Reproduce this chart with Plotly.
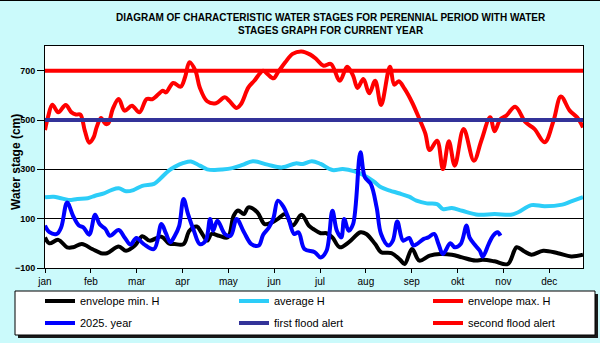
"""
Characteristic water stages for the perennial period, with the current
year's water stage graph on top. Days of year on x, water stage (cm) on y.
"""

import plotly.graph_objects as go

MONTHS = ["jan", "feb", "mar", "apr", "may", "jun",
          "jul", "aug", "sep", "okt", "nov", "dec"]

# envelope max. H
MAX_DAYS = [0, 2, 5, 9, 14, 18, 21, 24, 27, 30, 33, 35, 38, 41, 43, 46, 50, 54, 59, 64,
            69, 73, 80, 82, 87, 92, 95, 98, 102, 105, 110, 116, 122, 125, 130, 133, 138, 142, 148, 151,
            155, 158, 163, 168, 174, 180, 184, 189, 194, 200, 205, 209, 212, 216, 220, 224, 228, 234, 237, 240,
            244, 249, 254, 258, 261, 266, 270, 274, 278, 284, 291, 296, 302, 305, 309, 313, 319, 326, 332, 339,
            345, 350, 356, 361, 365]
MAX_H = [459, 511, 562, 531, 561, 531, 522, 522, 457, 408, 430, 470, 508, 484, 487, 545, 585, 538, 558, 531,
         585, 585, 619, 612, 650, 635, 673, 734, 700, 632, 576, 568, 592, 578, 549, 565, 632, 659, 700, 686,
         669, 693, 734, 768, 778, 765, 747, 720, 727, 659, 716, 680, 630, 666, 608, 659, 561, 716, 643, 657,
         626, 572, 504, 446, 378, 416, 301, 414, 315, 464, 335, 416, 511, 454, 504, 518, 554, 491, 464, 410,
         497, 595, 538, 511, 470]

# average H
AVG_DAYS = [0, 6, 10, 16, 22, 29, 34, 40, 45, 50, 55, 60, 66, 74, 78, 84, 88, 94, 99, 105,
            110, 115, 120, 127, 134, 141, 151, 161, 170, 175, 181, 187, 195, 202, 210, 217, 223, 228, 234, 240,
            247, 252, 259, 266, 270, 276, 283, 294, 305, 316, 321, 330, 339, 351, 357, 365]
AVG_H = [187, 189, 184, 176, 180, 183, 193, 203, 216, 223, 211, 216, 233, 241, 261, 295, 310, 326, 332, 315,
         300, 297, 299, 305, 318, 333, 319, 308, 324, 322, 333, 322, 297, 301, 292, 274, 251, 227, 214, 203,
         189, 173, 162, 159, 139, 143, 132, 116, 119, 116, 126, 155, 150, 157, 170, 187]

# envelope min. H
MIN_DAYS = [0, 3, 9, 15, 19, 25, 32, 38, 42, 50, 55, 61, 66, 71, 79, 84, 88, 94, 98, 103,
            106, 110, 113, 118, 124, 128, 131, 135, 138, 144, 149, 154, 158, 163, 168, 174, 179, 182, 187, 191,
            195, 200, 206, 214, 218, 224, 228, 235, 241, 244, 249, 254, 261, 268, 276, 283, 292, 297, 305, 314,
            320, 325, 330, 338, 348, 357, 365]
MIN_H = [24, 0, 14, -16, -16, -3, -23, -40, -40, -13, -30, -9, 29, 11, 27, 0, -3, -3, 51, 68,
         45, 11, 38, 31, 24, 112, 133, 119, 146, 126, 78, 85, 99, 119, 72, 116, 72, 58, 41, 41,
         24, -16, 4, 45, 38, -3, -36, -40, -67, -84, -23, -70, -50, -43, -46, -57, -70, -67, -73, -84,
         -16, -32, -46, -30, -40, -53, -46]

# 2025. year
CUR_DAYS = [0, 3, 8, 11, 15, 19, 23, 26, 30, 34, 37, 41, 44, 50, 54, 58, 62, 67, 74, 79,
            82, 85, 88, 91, 94, 97, 101, 105, 109, 112, 114, 117, 122, 126, 130, 135, 140, 145, 148, 152,
            155, 158, 162, 165, 169, 172, 176, 183, 187, 191, 195, 198, 201, 203, 206, 209, 214, 217, 221, 225,
            228, 233, 236, 239, 243, 247, 250, 253, 257, 260, 264, 267, 270, 275, 278, 282, 286, 288, 292, 295,
            297, 301, 304, 307, 309]
CUR_H = [72, 45, 38, 65, 166, 112, 72, 65, 35, 116, 78, 58, 31, 54, 24, -5, 22, -3, -23, 78,
         41, 4, 30, 70, 180, 119, 51, -3, 11, 99, 51, 92, 38, 31, 99, 45, -3, -9, 35, 65,
         103, 173, 146, 105, 38, 45, -23, -36, -57, -30, 132, 51, 24, 99, 51, 78, 369, 268, 241, 146,
         38, -9, 11, 89, 11, 22, -9, 0, 18, 24, 38, -3, -43, 0, -16, -3, 72, 24, -9, -30,
         -54, -3, 31, 45, 31]

FIRST_ALERT = 500
SECOND_ALERT = 700
YEAR_DAYS = [0, 365]
Y_TICKS = [-100, 100, 300, 500, 700]

FONT = "Liberation Sans, Arial, sans-serif"

# plot area in pixels, used to place things outside of it
L, R, T, B = 45, 17, 46, 75
W, H = 600, 343
PW, PH = W - L - R, H - T - B


def px_x(x):
    return (x - L) / PW


def px_y(y):
    return (H - B - y) / PH


def add_series(fig, x, y, name, color, legend, width=4, shape="spline"):
    fig.add_trace(go.Scatter(
        x=x, y=y, name=name, mode="lines", legend=legend,
        line=dict(color=color, width=width, shape=shape, smoothing=1),
        hoverinfo="skip",
    ))


fig = go.Figure()
add_series(fig, MIN_DAYS, MIN_H, "envelope min. H", "#000000", "legend")
add_series(fig, AVG_DAYS, AVG_H, "average H", "#2ccdf8", "legend")
add_series(fig, MAX_DAYS, MAX_H, "envelope max. H", "#ff0000", "legend")
add_series(fig, CUR_DAYS, CUR_H, "2025. year", "#0000ff", "legend2")
add_series(fig, YEAR_DAYS, [FIRST_ALERT] * 2, "first flood alert", "#333399", "legend2", shape="linear")
add_series(fig, YEAR_DAYS, [SECOND_ALERT] * 2, "second flood alert", "#ff0000", "legend2", shape="linear")

month_step = 31.1
legend_common = dict(
    orientation="h", xanchor="left", yanchor="top",
    x=px_x(40), entrywidth=149, entrywidthmode="pixels",
    bgcolor="rgba(0,0,0,0)", borderwidth=0,
    font=dict(family=FONT, size=11, color="#000000"),
)

fig.update_layout(
    width=W, height=H,
    margin=dict(l=L, r=R, t=T, b=B, autoexpand=False),
    paper_bgcolor="#cbfafb",
    plot_bgcolor="#ffffff",
    font=dict(family=FONT, color="#000000"),
    legend=dict(legend_common, y=px_y(286.5)),
    legend2=dict(legend_common, y=px_y(308.5)),
    xaxis=dict(
        range=[0, 365],
        tickvals=[i * month_step for i in range(12)], ticktext=MONTHS,
        ticks="outside", ticklen=4, tickcolor="#000000",
        tickfont=dict(size=10),
        showgrid=False, zeroline=False,
        showline=True, linecolor="#000000", linewidth=1, mirror=True,
    ),
    yaxis=dict(
        range=[-100, 800], tickvals=Y_TICKS,
        ticks="outside", ticklen=7, tickcolor="#000000",
        tickfont=dict(size=9, weight="bold"),
        showgrid=True, gridcolor="#000000", gridwidth=1, zeroline=False,
        showline=True, linecolor="#000000", linewidth=1, mirror=True,
    ),
    annotations=[
        dict(text="DIAGRAM OF CHARACTERISTIC WATER STAGES FOR PERENNIAL PERIOD WITH WATER<br>"
                  "STAGES GRAPH FOR CURRENT YEAR",
             xref="paper", yref="paper", x=px_x(331), y=px_y(10),
             xanchor="center", yanchor="top", showarrow=False,
             font=dict(size=10, weight="bold")),
        dict(text="Water stage (cm)", textangle=-90,
             xref="paper", yref="paper", x=px_x(16), y=px_y(162),
             xanchor="center", yanchor="middle", showarrow=False,
             font=dict(size=12, weight="bold")),
    ],
    shapes=[
        # legend box shadow + box
        dict(type="rect", xref="paper", yref="paper", layer="below",
             x0=px_x(18), x1=px_x(598), y0=px_y(338), y1=px_y(294),
             fillcolor="#1a1a1a", line=dict(width=0)),
        dict(type="rect", xref="paper", yref="paper", layer="below",
             x0=px_x(15), x1=px_x(595), y0=px_y(335), y1=px_y(291),
             fillcolor="#ffffff", line=dict(color="#000000", width=1)),
        # top edge of the frame
        dict(type="line", xref="paper", yref="paper", layer="below",
             x0=px_x(0), x1=px_x(600), y0=px_y(0.5), y1=px_y(0.5),
             line=dict(color="#000000", width=1)),
    ],
)

# the page's default body margin would shift the whole chart by 8px
fig.write_html("out.html", config={"displayModeBar": False},
               post_script="document.body.style.margin = '0';")
